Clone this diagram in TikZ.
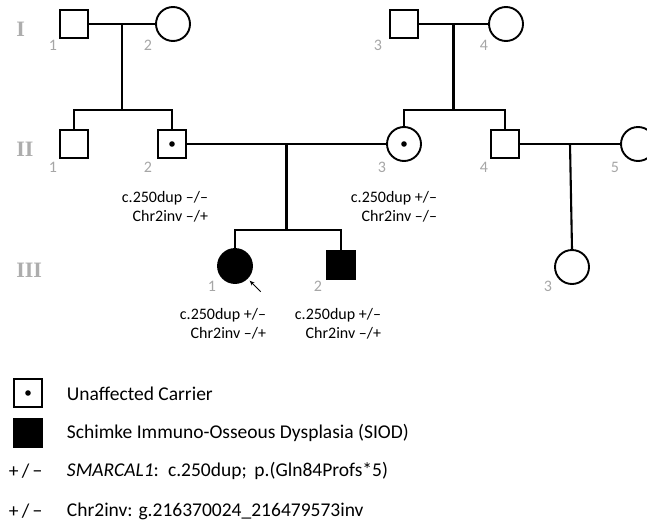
\documentclass[tikz,border=0pt]{standalone}
\usepackage{fontspec}
\setmainfont{Carlito}
\newfontfamily\genfont{Liberation Serif}
\usetikzlibrary{arrows.meta, positioning, calc}

\begin{document}
\begin{tikzpicture}[x=1pt, y=-1pt, line width=1.9pt,
    male/.style={draw, rectangle, minimum size=28pt, inner sep=0pt},
    female/.style={draw, circle, minimum size=34pt, inner sep=0pt},
    affected/.style={fill=black},
    marriage/.style={line width=2.8pt},
    descent/.style={line width=2.1pt},
    idnum/.style={text=black!35, font=\fontsize{16}{19}\selectfont},
    gen/.style={anchor=west, text=black!32, font=\genfont\bfseries\fontsize{22}{24}\selectfont},
    geno/.style={align=right, inner sep=0pt, font=\fontsize{16}{19.5}\selectfont},
    legtext/.style={anchor=west, inner sep=0pt, font=\fontsize{19.5}{23}\selectfont}]
    \useasboundingbox (0,0) rectangle (647,522);

    % generations
    \node[gen] (gI) at (12,29) {I};
    \node[gen] (gII) at (12,149) {II};
    \node[gen] (gIII) at (12,270) {III};

    % generation I
    \node[male] (I1) at (74,24) {};
    \node[female] (I2) at (173,24) {};
    \node[male] (I3) at (404,24) {};
    \node[female] (I4) at (506,24) {};

    % generation II
    \node[male] (II1) at (74,144) {};
    \node[male] (II2) at (172,144) {};
    \node[female] (II3) at (404,144) {};
    \node[male] (II4) at (505,144) {};
    \node[female] (II5) at (638,144) {};
    \fill (II2) circle (2.8pt);
    \fill (II3) circle (2.8pt);

    % generation III
    \node[female, affected] (III1) at (235,266) {};
    \node[male, affected] (III2) at (341,265) {};
    \node[female] (III3) at (572,267) {};

    % couples and sibships
    \draw[marriage] (I1) -- coordinate[pos=.5] (mI12) (I2);
    \draw[marriage] (I3) -- coordinate[pos=.5] (mI34) (I4);
    \draw[marriage] (II2) -- coordinate[pos=.5] (mII23) (II3);
    \draw[marriage] (II4) -- coordinate[pos=.5] (mII45) (II5);

    \coordinate (sI12) at (mI12 |- 0,110);
    \coordinate (sI34) at (mI34 |- 0,110);
    \coordinate (sII23) at (mII23 |- 0,230);
    \draw[descent] (mI12) -- (sI12);
    \draw[descent] (II1.north) |- (sI12) -| (II2.north);
    \draw[descent] (mI34) -- (sI34);
    \draw[descent] (II3.north) |- (sI34) -| (II4.north);
    \draw[descent] (mII23) -- (sII23);
    \draw[descent] (III1.north) |- (sII23) -| (III2.north);
    \draw[descent] (mII45) -- (III3.north);

    % proband
    \draw[line width=1pt, -{Stealth[length=5pt, width=4pt]}] ([shift={(13,13)}]III1.south east) -- ([shift={(2,2)}]III1.south east);

    % individual numbers
    \node[idnum] at ([shift={(-21,21)}]I1) {1};
    \node[idnum] at ([shift={(-25,21)}]I2) {2};
    \node[idnum] at ([shift={(-26,21)}]I3) {3};
    \node[idnum] at ([shift={(-22,21)}]I4) {4};
    \node[idnum] at ([shift={(-21,23)}]II1) {1};
    \node[idnum] at ([shift={(-24,23)}]II2) {2};
    \node[idnum] at ([shift={(-22,23)}]II3) {3};
    \node[idnum] at ([shift={(-21,23)}]II4) {4};
    \node[idnum] at ([shift={(-23,23)}]II5) {5};
    \node[idnum] at ([shift={(-23,20)}]III1) {1};
    \node[idnum] at ([shift={(-23,21)}]III2) {2};
    \node[idnum] at ([shift={(-24,19)}]III3) {3};

    % genotypes
    \node[geno] (gtII2) at ([shift={(-7,63)}]II2) {c.250dup –/–\\Chr2inv –/+};
    \node[geno] (gtII3) at ([shift={(-10,63)}]II3) {c.250dup +/–\\Chr2inv –/–};
    \node[geno] (gtIII1) at ([shift={(-12,58)}]III1) {c.250dup +/–\\Chr2inv –/+};
    \node[geno] (gtIII2) at ([shift={(-3,59)}]III2) {c.250dup +/–\\Chr2inv –/+};

    % legend
    \node[draw, rectangle, minimum size=28pt, inner sep=0pt] (lcarrier) at (28,393) {};
    \fill (lcarrier) circle (2.8pt);
    \node[draw, fill=black, rectangle, minimum size=28pt, inner sep=0pt] (laffected) at (28,433) {};
    \node[legtext] (tcarrier) at (66,394) {Unaffected Carrier};
    \node[legtext] (taffected) at (66,433) {Schimke Immuno-Osseous Dysplasia (SIOD)};
    \node[legtext] (pm1) at (8,471) {+\,/\,−};
    \node[legtext] (tsmarcal) at (66,471) {\textit{SMARCAL1}:\, c.250dup;\, p.(Gln84Profs*5)};
    \node[legtext] (pm2) at (8,511) {+\,/\,−};
    \node[legtext] (tchr) at (66,511) {Chr2inv: g.216370024\_216479573inv};
\end{tikzpicture}
\end{document}
